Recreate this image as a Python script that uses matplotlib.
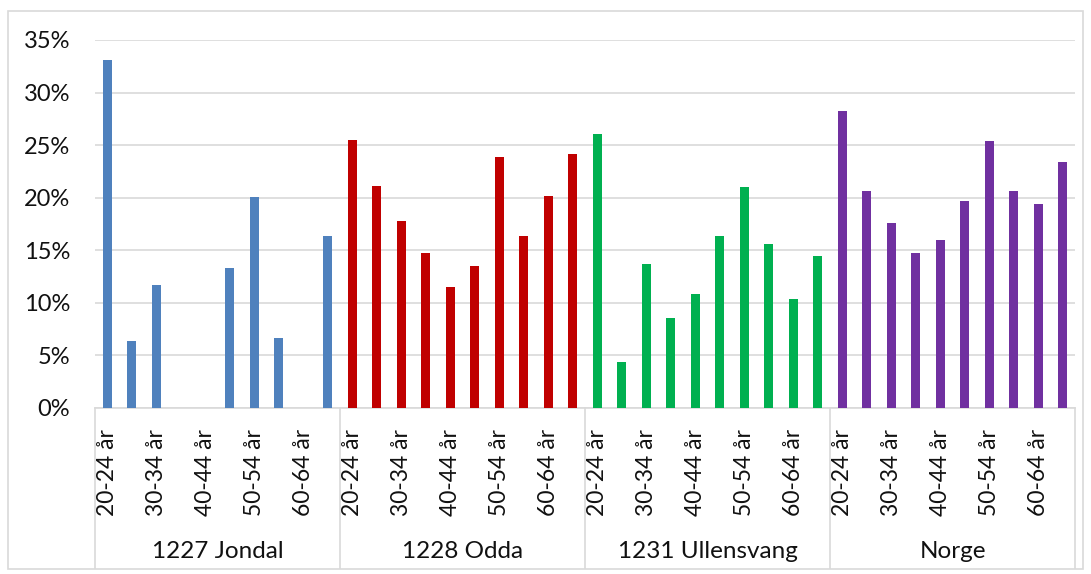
"""Share by age group for three municipalities and Norway, grouped bar chart."""

import matplotlib

matplotlib.use("Agg")
import numpy as np
from matplotlib import pyplot as plt
from matplotlib.patches import Rectangle
from matplotlib.ticker import FuncFormatter, MultipleLocator

plt.rcParams["font.family"] = ["Lato", "DejaVu Sans"]

groups = ["1227 Jondal", "1228 Odda", "1231 Ullensvang", "Norge"]
age_groups = [
    "20-24 år", "25-29 år", "30-34 år", "35-39 år", "40-44 år",
    "45-49 år", "50-54 år", "55-59 år", "60-64 år", "65-69 år",
]
jondal = [33.1, 6.4, 11.7, 0.0, 0.0, 13.3, 20.1, 6.7, 0.0, 16.4]
odda = [25.5, 21.1, 17.8, 14.7, 11.5, 13.5, 23.9, 16.4, 20.2, 24.2]
ullensvang = [26.1, 4.4, 13.7, 8.6, 10.8, 16.4, 21.0, 15.6, 10.4, 14.5]
norge = [28.2, 20.6, 17.6, 14.7, 16.0, 19.7, 25.4, 20.6, 19.4, 23.4]
group_values = [jondal, odda, ullensvang, norge]
group_colors = ["#4F81BD", "#C00000", "#00B050", "#7030A0"]

W, H = 1091, 574
fig = plt.figure(figsize=(W / 100, H / 100), dpi=100)
ax = fig.add_axes([95 / W, (H - 408) / H, 980 / W, 368 / H])

n_cat = len(age_groups)
tick_pos = []
tick_labels = []
for g, (values, color) in enumerate(zip(group_values, group_colors)):
    x = g * n_cat + np.arange(n_cat)
    ax.bar(x, np.array(values) / 100, width=0.38, color=color, zorder=3)
    for i, label in enumerate(age_groups):
        tick_pos.append(x[i])
        tick_labels.append(label if i % 2 == 0 else "")

total = n_cat * len(groups)
ax.set_xlim(-0.5, total - 0.5)
ax.set_ylim(0, 0.35)
ax.yaxis.set_major_locator(MultipleLocator(0.05))
ax.yaxis.set_major_formatter(FuncFormatter(lambda v, _: f"{v * 100:.0f}%"))
ax.grid(axis="y", color="#D9D9D9", linewidth=1.2, zorder=0)
for side in ["top", "right", "left"]:
    ax.spines[side].set_visible(False)
ax.spines["bottom"].set_color("#D9D9D9")
ax.spines["bottom"].set_linewidth(1.2)

ax.set_xticks(tick_pos)
ax.set_xticklabels(tick_labels, rotation=90, fontsize=16.5, color="#111111")
ax.tick_params(axis="x", length=0, pad=15)
ax.tick_params(axis="y", length=0, pad=18, labelsize=17, labelcolor="#111111")

trans = ax.get_xaxis_transform()
bottom = -(568 - 408) / 368
for g in range(len(groups) + 1):
    xb = g * n_cat - 0.5
    ax.plot([xb, xb], [0, bottom], transform=trans, color="#D9D9D9",
            linewidth=1.2, clip_on=False)
for g, name in enumerate(groups):
    ax.text(g * n_cat + (n_cat - 1) / 2, -(551 - 408) / 368, name,
            transform=trans, ha="center", va="center", fontsize=17.5,
            color="#111111")

fig.patches.append(Rectangle((8 / W, (H - 569) / H), 1075 / W, 558 / H,
                             transform=fig.transFigure, fill=False,
                             edgecolor="#D9D9D9", linewidth=1.2))

fig.savefig("out.png", dpi=100)
